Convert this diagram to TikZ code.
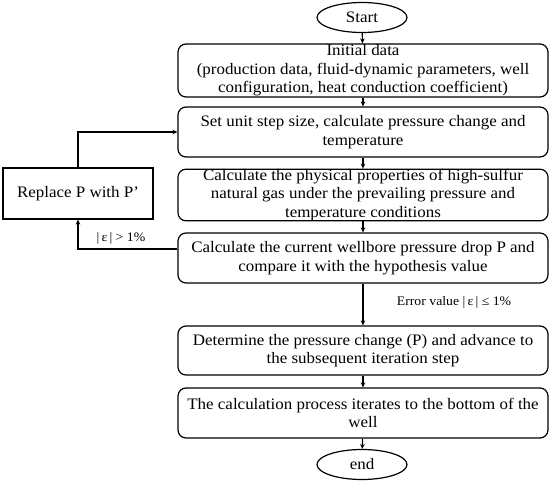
\documentclass[tikz,border=0pt]{standalone}
\usepackage{fontspec}
\setmainfont{Liberation Serif}[FakeStretch=1.06]
\usetikzlibrary{arrows.meta,shapes.geometric}

\begin{document}
\begin{tikzpicture}[y=-1pt,x=1pt,
	stepbox/.style={draw, line width=1.2pt, rounded corners=8pt, minimum width=370pt, minimum height=50pt, inner sep=0pt, align=center, font=\fontsize{16}{18.5}\selectfont},
	termbox/.style={draw, ellipse, line width=1.2pt, minimum width=90pt, minimum height=30pt, inner sep=0pt, font=\fontsize{16}{16}\selectfont},
	loopbox/.style={draw, line width=1.2pt, minimum width=150pt, minimum height=51pt, font=\fontsize{16}{16}\selectfont},
	note/.style={font=\fontsize{13}{14}\selectfont, inner sep=1pt},
	flow/.style={line width=1.2pt, -{Stealth[length=5pt,width=4.5pt]}}]
	\useasboundingbox (0,0) rectangle (550,483);

	% main column
	\node[termbox] (start) at (362,17.5) {Start};
	\node[stepbox, minimum height=53pt] (init) at (363,70.5) {Initial data\\(production data, fluid-dynamic parameters, well\\configuration, heat conduction coefficient)};
	\node[stepbox] (unit) at (363,132) {Set unit step size, calculate pressure change and\\temperature};
	\node[stepbox] (props) at (363,195) {Calculate the physical properties of high-sulfur\\natural gas under the prevailing pressure and\\temperature conditions};
	\node[stepbox] (drop) at (363,258) {Calculate the current wellbore pressure drop P and\\compare it with the hypothesis value};
	\node[stepbox, minimum height=49pt] (advance) at (363,350.5) {Determine the pressure change (P) and advance to\\the subsequent iteration step};
	\node[stepbox] (bottom) at (363,413) {The calculation process iterates to the bottom of the\\well};
	\node[termbox] (end) at (362,464.5) {end};

	% loop back
	\node[loopbox] (replace) at (78,193.5) {Replace P with P’};

	\draw[flow] (start) -- (init);
	\draw[flow] (init) -- (unit);
	\draw[flow] (unit) -- (props);
	\draw[flow] (props) -- (drop);
	\draw[flow] (drop) -- (advance);
	\draw[flow] (advance) -- (bottom);
	\draw[flow] (bottom) -- (end);

	\draw[flow] ([yshift=9pt]drop.west) -| (replace.south);
	\draw[flow] (replace.north) |- (unit.west);

	\node[note] (bigerr) at (121,238) {|\,ε\,| > 1\%};
	\node[note] (smallerr) at (454,302) {Error value |\,ε\,| ≤ 1\%};
\end{tikzpicture}
\end{document}
